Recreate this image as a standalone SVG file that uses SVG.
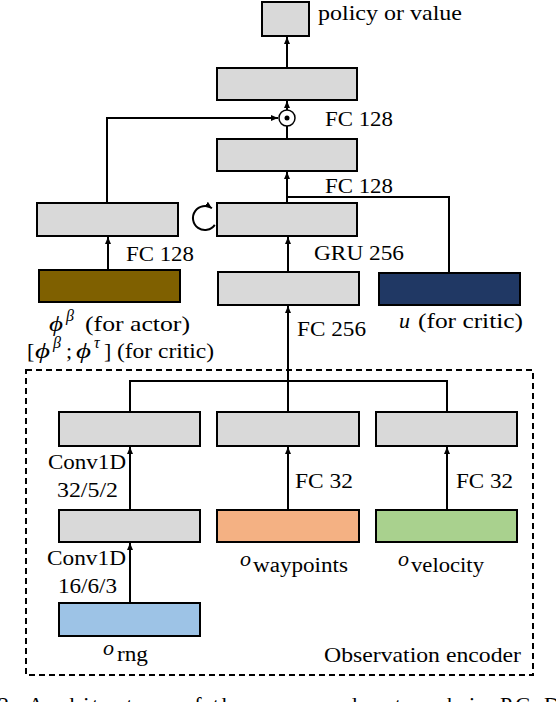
<svg xmlns="http://www.w3.org/2000/svg" width="556" height="702" viewBox="0 0 556 702">
<style>
.box{fill:#d9d9d9;stroke:#000;stroke-width:2}
.t{font-family:"Liberation Serif","Times New Roman",serif;font-size:22px;fill:#000}
.s{font-size:16px}
.sub{font-size:20px}
.i{font-style:italic}
.c{fill:none;stroke:#000;stroke-width:2}
</style>
<defs>
<marker id="ah" markerUnits="userSpaceOnUse" markerWidth="8" markerHeight="8" refX="7" refY="3" orient="auto">
<path d="M0,0 L7,3 L0,6 z" fill="#000"/>
</marker>
</defs>
<rect width="556" height="702" fill="#fff"/>

<g id="encoder-frame">
<rect x="26" y="370" width="507" height="305" fill="none" stroke="#000" stroke-width="2" stroke-dasharray="6 4"/>
<text class="t" x="324" y="662" textLength="197" lengthAdjust="spacingAndGlyphs">Observation encoder</text>
</g>

<g id="connectors">
<path class="c" d="M287 68 V37" marker-end="url(#ah)"/>
<path class="c" d="M287 110 V101" marker-end="url(#ah)"/>
<path class="c" d="M287 139 V126"/>
<path class="c" d="M107 203 V118 H278" marker-end="url(#ah)"/>
<path class="c" d="M287 203 V172" marker-end="url(#ah)"/>
<path class="c" d="M449 273 V197 H287"/>
<path class="c" d="M108 270 V237" marker-end="url(#ah)"/>
<path class="c" d="M288 272 V237" marker-end="url(#ah)"/>
<path class="c" d="M288 413 V306" marker-end="url(#ah)"/>
<path class="c" d="M130 413 V381 H447 V413"/>
<path class="c" d="M130 510 V447" marker-end="url(#ah)"/>
<path class="c" d="M130 603 V543" marker-end="url(#ah)"/>
<path class="c" d="M288 510 V447" marker-end="url(#ah)"/>
<path class="c" d="M447 510 V447" marker-end="url(#ah)"/>
<path class="c" d="M214.8 224.9 A12 12 0 1 1 211.9 208.2" marker-end="url(#ah)"/>
</g>

<g id="output">
<rect class="box" x="262" y="2" width="47" height="34"/>
<text class="t" x="318" y="20" textLength="144" lengthAdjust="spacingAndGlyphs">policy or value</text>
</g>
<g id="fc-top">
<rect class="box" x="217" y="68" width="140" height="32"/>
</g>
<g id="hadamard">
<circle cx="287" cy="118" r="8" fill="#fff" stroke="#000" stroke-width="1.5"/>
<circle cx="287" cy="118" r="2.5" fill="#000"/>
<text class="t" x="325" y="126" textLength="68" lengthAdjust="spacingAndGlyphs">FC 128</text>
</g>
<g id="fc-mid">
<rect class="box" x="217" y="139" width="140" height="32"/>
<text class="t" x="325" y="193" textLength="68" lengthAdjust="spacingAndGlyphs">FC 128</text>
</g>
<g id="gru">
<rect class="box" x="217" y="203" width="140" height="33"/>
<text class="t" x="314" y="260" textLength="90" lengthAdjust="spacingAndGlyphs">GRU 256</text>
</g>
<g id="actor-fc">
<rect class="box" x="37" y="203" width="141" height="33"/>
<text class="t" x="126" y="261" textLength="68" lengthAdjust="spacingAndGlyphs">FC 128</text>
</g>
<g id="phi">
<rect x="39" y="270" width="141" height="32" fill="#7f6000" stroke="#000" stroke-width="2"/>
<text class="t"><tspan class="i" x="49" y="331" textLength="14" lengthAdjust="spacingAndGlyphs">ϕ</tspan><tspan class="i s" x="66" y="321">β</tspan><tspan x="85" y="331" textLength="105" lengthAdjust="spacingAndGlyphs">(for actor)</tspan><tspan x="27" y="358">[</tspan><tspan class="i" x="35" y="358" textLength="15" lengthAdjust="spacingAndGlyphs">ϕ</tspan><tspan class="i s" x="53" y="348">β</tspan><tspan x="66" y="358">;</tspan><tspan class="i" x="76" y="358" textLength="15" lengthAdjust="spacingAndGlyphs">ϕ</tspan><tspan class="i s" x="94" y="348">τ</tspan><tspan x="104" y="358">]</tspan><tspan x="117" y="358" textLength="97" lengthAdjust="spacingAndGlyphs">(for critic)</tspan></text>
</g>
<g id="fc256">
<rect class="box" x="218" y="272" width="141" height="33"/>
<text class="t" x="297" y="336" textLength="69" lengthAdjust="spacingAndGlyphs">FC 256</text>
</g>
<g id="u">
<rect x="379" y="273" width="141" height="32" fill="#203864" stroke="#000" stroke-width="2"/>
<text class="t"><tspan class="i" x="399" y="328">u</tspan><tspan x="418" y="328" textLength="105" lengthAdjust="spacingAndGlyphs">(for critic)</tspan></text>
</g>

<g id="enc-conv2">
<rect class="box" x="59" y="412" width="141" height="34"/>
<text class="t" x="48" y="469" textLength="78" lengthAdjust="spacingAndGlyphs">Conv1D</text>
<text class="t" x="57" y="497" textLength="61" lengthAdjust="spacingAndGlyphs">32/5/2</text>
</g>
<g id="enc-fc-wp">
<rect class="box" x="217" y="412" width="142" height="34"/>
<text class="t" x="295" y="488" textLength="58" lengthAdjust="spacingAndGlyphs">FC 32</text>
</g>
<g id="enc-fc-vel">
<rect class="box" x="376" y="412" width="141" height="34"/>
<text class="t" x="456" y="488" textLength="57" lengthAdjust="spacingAndGlyphs">FC 32</text>
</g>
<g id="enc-conv1">
<rect class="box" x="59" y="510" width="141" height="32"/>
<text class="t" x="47" y="565" textLength="79" lengthAdjust="spacingAndGlyphs">Conv1D</text>
<text class="t" x="58" y="593" textLength="59" lengthAdjust="spacingAndGlyphs">16/6/3</text>
</g>
<g id="o-waypoints">
<rect x="217" y="510" width="142" height="32" fill="#f4b183" stroke="#000" stroke-width="2"/>
<text class="t"><tspan class="i" x="240" y="566">o</tspan><tspan class="sub" x="253" y="572" textLength="95" lengthAdjust="spacingAndGlyphs">waypoints</tspan></text>
</g>
<g id="o-velocity">
<rect x="376" y="510" width="141" height="32" fill="#a9d18e" stroke="#000" stroke-width="2"/>
<text class="t"><tspan class="i" x="398" y="566">o</tspan><tspan class="sub" x="411" y="572" textLength="73" lengthAdjust="spacingAndGlyphs">velocity</tspan></text>
</g>
<g id="o-rng">
<rect x="59" y="603" width="141" height="33" fill="#9dc3e6" stroke="#000" stroke-width="2"/>
<text class="t"><tspan class="i" x="103" y="655">o</tspan><tspan class="sub" x="117" y="661" textLength="31" lengthAdjust="spacingAndGlyphs">rng</tspan></text>
</g>

<text class="t" x="-2" y="712" textLength="562" lengthAdjust="spacing">2: Architecture of the proposed network in PG-D</text>
</svg>
